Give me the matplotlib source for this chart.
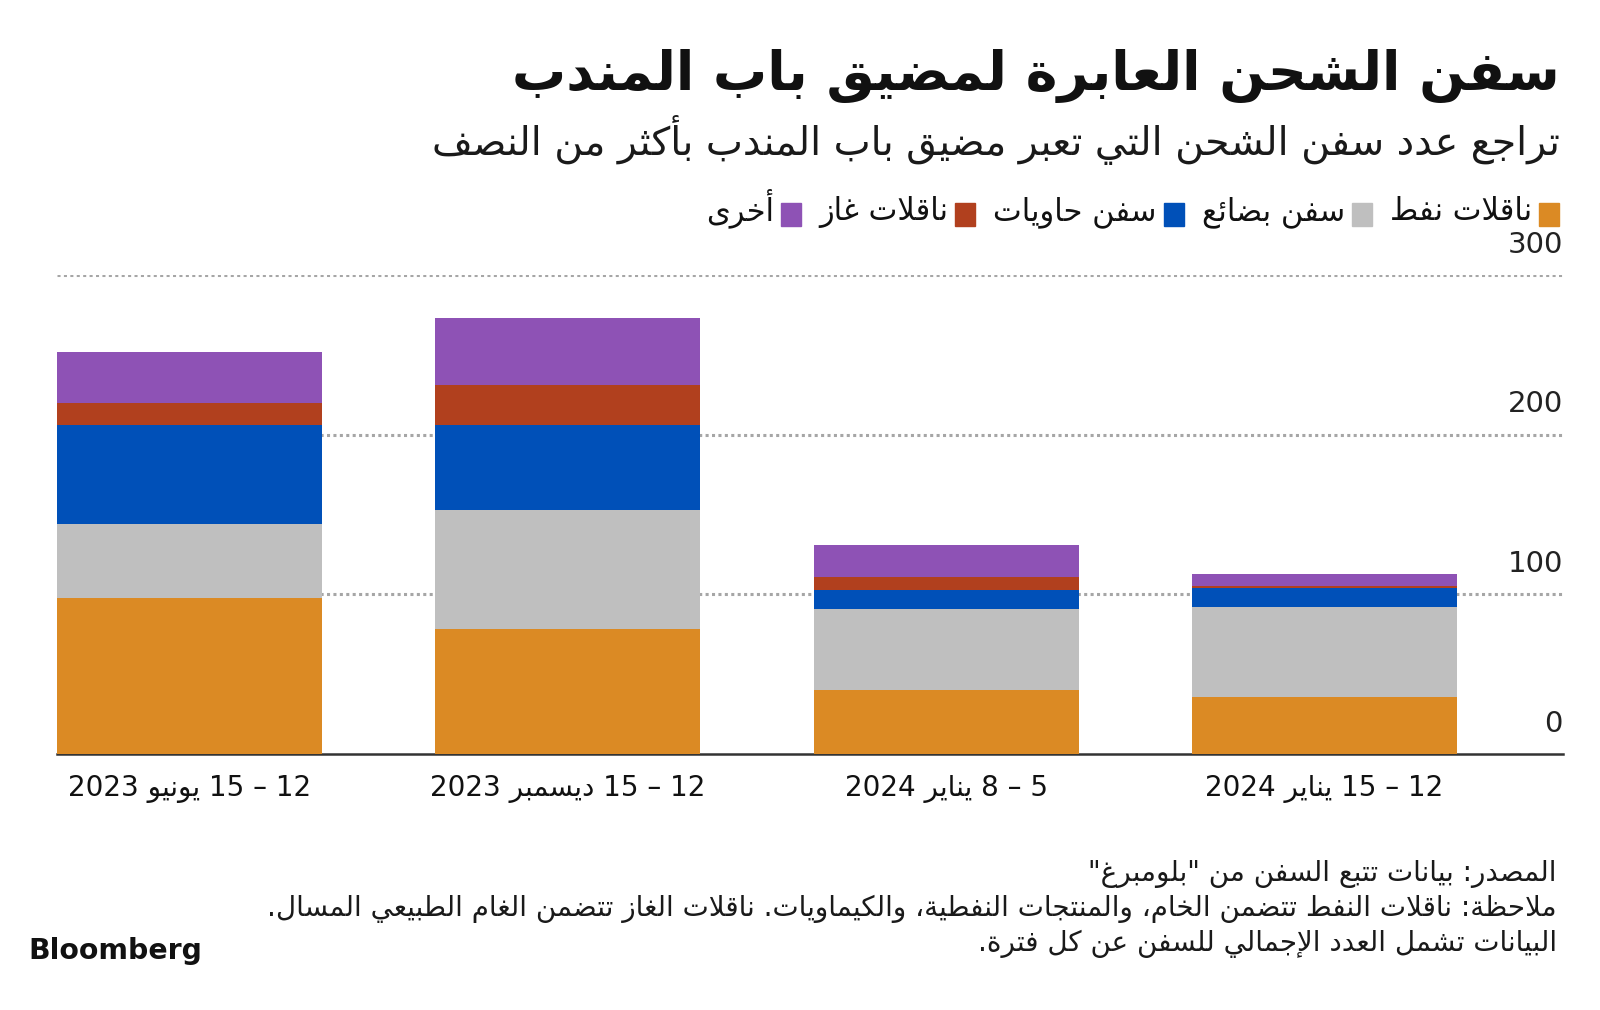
import re
import matplotlib
matplotlib.use('Agg')
import matplotlib.pyplot as plt
from matplotlib.patches import Rectangle
import numpy as np

plt.rcParams['font.family'] = ['DejaVu Sans']

# ---- data ----
periods = ['12 – 15 يونيو 2023', '12 – 15 ديسمبر 2023', '5 – 8 يناير 2024', '12 – 15 يناير 2024']
oil_tankers = [98, 78, 40, 36]
bulk_ships = [46, 75, 51, 56]
container_ships = [62, 53, 12, 12]
gas_carriers = [14, 25, 8, 1]
other_ships = [32, 42, 20, 8]
series_names = ['ناقلات نفط', 'سفن بضائع', 'سفن حاويات', 'ناقلات غاز', 'أخرى']
series_colors = ['#db8a24', '#bfbfbf', '#0050b8', '#b1401e', '#8e52b5']
yticks = [0, 100, 200, 300]

title = 'سفن الشحن العابرة لمضيق باب المندب'
subtitle = 'تراجع عدد سفن الشحن التي تعبر مضيق باب المندب بأكثر من النصف'
footer = ['المصدر: بيانات تتبع السفن من "بلومبرغ"',
          'ملاحظة: ناقلات النفط تتضمن الخام، والمنتجات النفطية، والكيماويات. ناقلات الغاز تتضمن الغام الطبيعي المسال.',
          'البيانات تشمل العدد الإجمالي للسفن عن كل فترة.']

# ---- minimal arabic shaping + rtl ordering (no reshaper libs here) ----
# letter -> (first presentation form, number of forms: iso, fin, ini, med)
FORMS = {
    'ء': (0xFE80, 1), 'آ': (0xFE81, 2), 'أ': (0xFE83, 2), 'ؤ': (0xFE85, 2),
    'إ': (0xFE87, 2), 'ئ': (0xFE89, 4), 'ا': (0xFE8D, 2), 'ب': (0xFE8F, 4),
    'ة': (0xFE93, 2), 'ت': (0xFE95, 4), 'ث': (0xFE99, 4), 'ج': (0xFE9D, 4),
    'ح': (0xFEA1, 4), 'خ': (0xFEA5, 4), 'د': (0xFEA9, 2), 'ذ': (0xFEAB, 2),
    'ر': (0xFEAD, 2), 'ز': (0xFEAF, 2), 'س': (0xFEB1, 4), 'ش': (0xFEB5, 4),
    'ص': (0xFEB9, 4), 'ض': (0xFEBD, 4), 'ط': (0xFEC1, 4), 'ظ': (0xFEC5, 4),
    'ع': (0xFEC9, 4), 'غ': (0xFECD, 4), 'ف': (0xFED1, 4), 'ق': (0xFED5, 4),
    'ك': (0xFED9, 4), 'ل': (0xFEDD, 4), 'م': (0xFEE1, 4), 'ن': (0xFEE5, 4),
    'ه': (0xFEE9, 4), 'و': (0xFEED, 2), 'ى': (0xFEEF, 2), 'ي': (0xFEF1, 4),
}
LAM_ALEF = {'آ': 0xFEF5, 'أ': 0xFEF7, 'إ': 0xFEF9, 'ا': 0xFEFB}


def shape(s):
    out = []
    prev_joins = False
    i = 0
    while i < len(s):
        c = s[i]
        if c not in FORMS:
            out.append(c)
            prev_joins = False
            i += 1
            continue
        nxt = s[i + 1] if i + 1 < len(s) else ''
        if c == 'ل' and nxt in LAM_ALEF:
            out.append(chr(LAM_ALEF[nxt] + (1 if prev_joins else 0)))
            prev_joins = False
            i += 2
            continue
        base, n = FORMS[c]
        joins_next = n == 4 and nxt in FORMS and FORMS[nxt][1] > 1
        if n == 1:
            form = 0
        elif prev_joins and joins_next:
            form = 3
        elif prev_joins:
            form = 1
        elif joins_next:
            form = 2
        else:
            form = 0
        out.append(chr(base + form))
        prev_joins = joins_next
        i += 1
    return ''.join(out)


def ar(s):
    t = shape(s)[::-1]
    return re.sub(r'[0-9A-Za-z]+', lambda m: m.group(0)[::-1], t)


W, H = 1600, 1010
fig = plt.figure(figsize=(W / 100, H / 100), dpi=100)
renderer = fig.canvas.get_renderer()


def fit(t, width, maxsize):
    w = t.get_window_extent(renderer).width
    t.set_fontsize(min(maxsize, t.get_fontsize() * width / w))


# ---- axes ----
ax = fig.add_axes([57 / W, (H - 754) / H, (1563 - 57) / W, (754 - 275) / H])
x = np.arange(len(periods))
bottom = np.zeros(len(periods))
for vals, col in zip([oil_tankers, bulk_ships, container_ships, gas_carriers, other_ships], series_colors):
    ax.bar(x, vals, width=0.7, bottom=bottom, color=col, zorder=3)
    bottom += np.array(vals)

ax.set_xlim(-0.35, 3.63)
ax.set_ylim(0, 300)
for v in yticks[1:]:
    ax.axhline(v, color='#a6a6a6', lw=2.2, linestyle=(0, (1.0, 1.1)), zorder=1)
for s in ['top', 'left', 'right']:
    ax.spines[s].set_visible(False)
ax.spines['bottom'].set_color('#333333')
ax.spines['bottom'].set_linewidth(1.8)
ax.set_yticks([])
ax.set_xticks(x, [ar(p) for p in periods], fontsize=20, color='#111111')
ax.tick_params(axis='x', length=0, pad=15)
for v in yticks:
    ax.annotate(str(v), xy=(1, v), xycoords=('axes fraction', 'data'), xytext=(0, 16),
                textcoords='offset points', ha='right', va='baseline', fontsize=21, color='#222222')

# ---- titles ----
t = fig.text(1560 / W, 1 - 90 / H, ar(title), ha='right', va='baseline', fontsize=42,
             fontweight='bold', color='#111111')
fit(t, 1052, 46)
t = fig.text(1560 / W, 1 - 155 / H, ar(subtitle), ha='right', va='baseline', fontsize=24, color='#1a1a1a')
fit(t, 1132, 30)

# ---- legend, right to left ----
xr = 1559
for name, col in zip(series_names, series_colors):
    fig.patches.append(Rectangle(((xr - 20) / W, 1 - 226 / H), 20 / W, 23 / H,
                                 transform=fig.transFigure, color=col))
    xr -= 27
    lt = fig.text(xr / W, 1 - 220 / H, ar(name), ha='right', va='baseline', fontsize=22, color='#111111')
    xr -= lt.get_window_extent(renderer).width + 18

# ---- footer ----
fts = []
for k, line in enumerate(footer):
    fts.append(fig.text(1557 / W, 1 - (881 + 35 * k) / H, ar(line), ha='right', va='baseline',
                        fontsize=17, color='#1a1a1a'))
w2 = fts[1].get_window_extent(renderer).width
for ft in fts:
    ft.set_fontsize(min(20, 17 * 1311 / w2))

b = fig.text(28 / W, 1 - 959 / H, 'Bloomberg', ha='left', va='baseline', fontsize=20,
             fontweight='bold', color='#111111')
fit(b, 174, 22)

fig.savefig('out.png', dpi=100, facecolor='white')
